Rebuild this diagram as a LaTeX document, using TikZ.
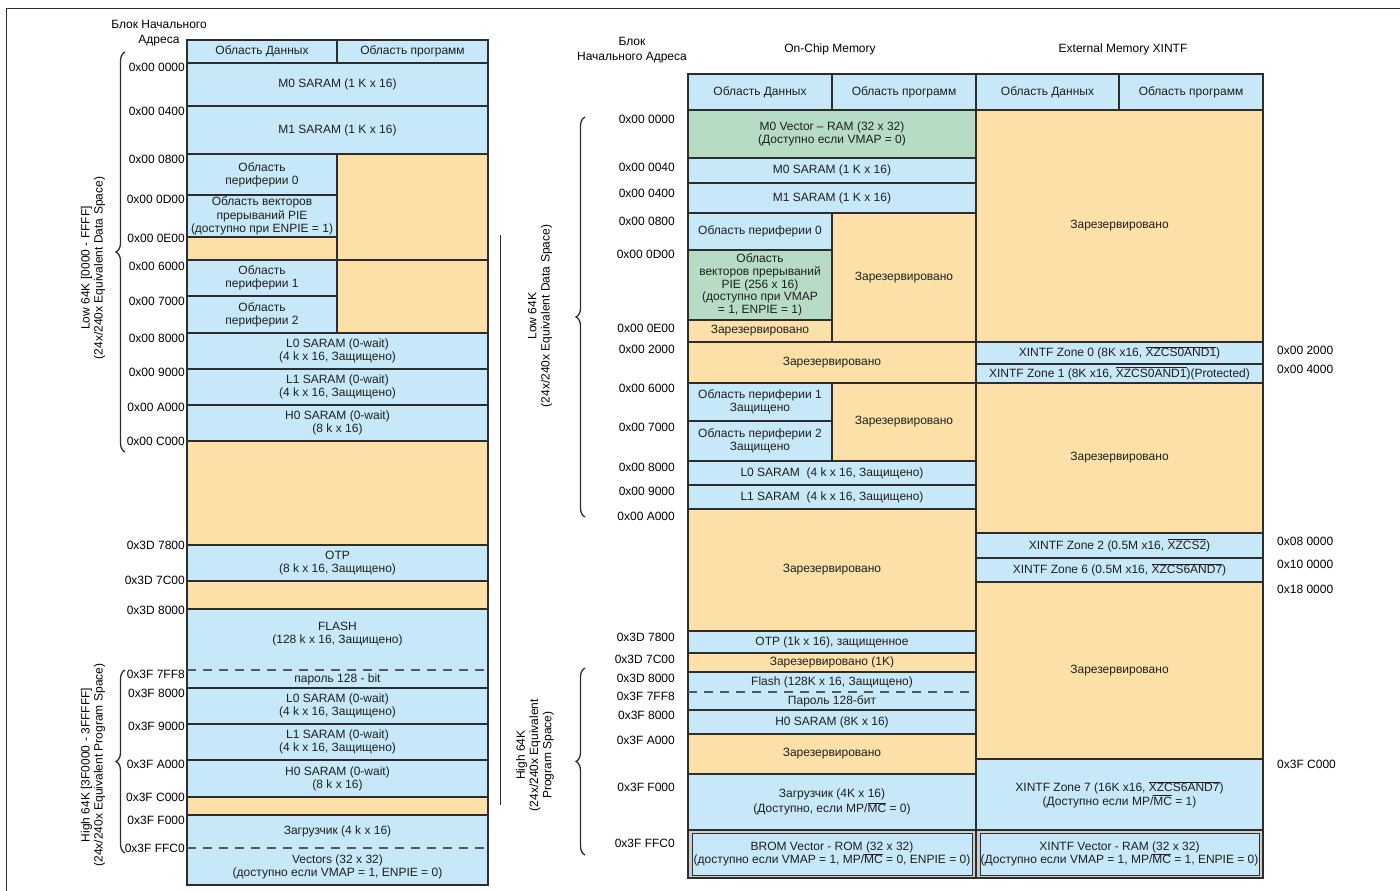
\documentclass[tikz,border=0pt]{standalone}
\usepackage{fontspec}
\setmainfont{Liberation Sans}
\usepackage{tikz}
\usetikzlibrary{decorations.pathreplacing}
\definecolor{ramblue}{RGB}{198, 232, 248}
\definecolor{rsvorange}{RGB}{253, 224, 168}
\definecolor{vecgreen}{RGB}{182, 221, 195}
\definecolor{framegray}{RGB}{205, 205, 205}
\definecolor{edgegray}{RGB}{45, 45, 45}
\newcommand{\ovl}[1]{$\overline{\mbox{#1}}$}
\newcommand{\mapfont}{\fontsize{12}{13.2}\selectfont}

\begin{document}
\begin{tikzpicture}[
    x=1pt, y=-1pt,
    cellbase/.style={anchor=north west, inner sep=0pt, outer sep=0pt,
                     align=center, font=\mapfont, text=black!88},
    ram/.style={cellbase, draw=edgegray, line width=1.1pt, fill=ramblue},
    rsv/.style={cellbase, draw=edgegray, line width=1.1pt, fill=rsvorange},
    vec/.style={cellbase, draw=edgegray, line width=1.1pt, fill=vecgreen},
    ramfill/.style={cellbase, fill=ramblue},
    dbl/.style={cellbase, draw=edgegray, line width=1.1pt, fill=framegray},
    outline/.style={draw=edgegray, line width=1.1pt},
    dashsep/.style={draw=edgegray!80, line width=1.1pt, dash pattern=on 9pt off 7pt},
    addr/.style={anchor=east, inner sep=0pt, font=\mapfont},
    xaddr/.style={anchor=west, inner sep=0pt, font=\mapfont},
    heading/.style={align=center, inner sep=0pt, font=\mapfont},
    bracepath/.style={decorate, decoration={brace, amplitude=9pt},
                      draw=edgegray, line width=1.3pt},
    sidelabel/.style={rotate=90, align=center, inner sep=0pt, font=\mapfont}
]
    \useasboundingbox (0,0) rectangle (1400,891);

    % frame and separator
    \coordinate (framebl) at (6,891);
    \coordinate (frametr) at (1400,8);
    \draw[edgegray, line width=0.8pt] (framebl) |- (frametr);
    \coordinate (septop) at (500,235);
    \coordinate (sepbot) at (500,805);
    \draw[edgegray, line width=1pt] (septop) -- (sepbot);

    % ---------- left map ----------
    \node[heading] (ltitle) at (159,33) {Блок Начального\\[2pt]Адреса};
    \node[ram, minimum width=150pt, minimum height=23pt] (lhd1) at (187,40) {Область Данных};
    \node[ram, minimum width=151pt, minimum height=23pt] (lhd2) at (337,40) {Область программ};
    \node[ram, minimum width=301pt, minimum height=43pt] (lm0) at (187,63) {M0 SARAM (1 K x 16)};
    \node[ram, minimum width=301pt, minimum height=48pt] (lm1) at (187,106) {M1 SARAM (1 K x 16)};
    \node[ram, minimum width=150pt, minimum height=41pt] (lp0) at (187,154) {Область\\периферии 0};
    \node[ram, minimum width=150pt, minimum height=42pt] (lpie) at (187,195)
        {Область векторов\\прерываний PIE\\(доступно при ENPIE = 1)};
    \node[rsv, minimum width=150pt, minimum height=23pt] (lr0) at (187,237) {};
    \node[rsv, minimum width=151pt, minimum height=106pt] (lr1) at (337,154) {};
    \node[ram, minimum width=150pt, minimum height=36pt] (lp1) at (187,260) {Область\\периферии 1};
    \node[ram, minimum width=150pt, minimum height=37pt] (lp2) at (187,296) {Область\\периферии 2};
    \node[rsv, minimum width=151pt, minimum height=73pt] (lr2) at (337,260) {};
    \node[ram, minimum width=301pt, minimum height=36pt] (ll0) at (187,333)
        {L0 SARAM (0-wait)\\(4 k x 16, Защищено)};
    \node[ram, minimum width=301pt, minimum height=36pt] (ll1) at (187,369)
        {L1 SARAM (0-wait)\\(4 k x 16, Защищено)};
    \node[ram, minimum width=301pt, minimum height=36pt] (lh0) at (187,405)
        {H0 SARAM (0-wait)\\(8 k x 16)};
    \node[rsv, minimum width=301pt, minimum height=104pt] (lr3) at (187,441) {};
    \node[ram, minimum width=301pt, minimum height=36pt] (lotp) at (187,545)
        {OTP\\(8 k x 16, Защищено)};
    \node[rsv, minimum width=301pt, minimum height=28pt] (lr4) at (187,581) {};
    \node[ramfill, minimum width=301pt, minimum height=50pt] (lflash) at (187,609)
        {FLASH\\(128 k x 16, Защищено)};
    \node[ramfill, minimum width=301pt, minimum height=11pt] (lflash2) at (187,659) {};
    \node[ramfill, minimum width=301pt, minimum height=18pt] (lpwd) at (187,670) {пароль 128 - bit};
    \draw[outline] (lflash.north west) rectangle (lpwd.south east);
    \draw[dashsep] (lpwd.north west) -- (lpwd.north east);
    \node[ram, minimum width=301pt, minimum height=36pt] (lhl0) at (187,688)
        {L0 SARAM (0-wait)\\(4 k x 16, Защищено)};
    \node[ram, minimum width=301pt, minimum height=36pt] (lhl1) at (187,724)
        {L1 SARAM (0-wait)\\(4 k x 16, Защищено)};
    \node[ram, minimum width=301pt, minimum height=37pt] (lhh0) at (187,760)
        {H0 SARAM (0-wait)\\(8 k x 16)};
    \node[rsv, minimum width=301pt, minimum height=18pt] (lr5) at (187,797) {};
    \node[ramfill, minimum width=301pt, minimum height=33pt] (lboot) at (187,815) {Загрузчик (4 k x 16)};
    \node[ramfill, minimum width=301pt, minimum height=37pt] (lvec) at (187,848)
        {Vectors (32 x 32)\\(доступно если VMAP = 1, ENPIE = 0)};
    \draw[outline] (lboot.north west) rectangle (lvec.south east);
    \draw[dashsep] (lvec.north west) -- (lvec.north east);

    % left addresses
    \node[addr] (la1) at (185,67) {0x00 0000};
    \node[addr] (la2) at (185,111) {0x00 0400};
    \node[addr] (la3) at (185,159) {0x00 0800};
    \node[addr] (la4) at (185,199) {0x00 0D00};
    \node[addr] (la5) at (185,238) {0x00 0E00};
    \node[addr] (la6) at (185,266) {0x00 6000};
    \node[addr] (la7) at (185,301) {0x00 7000};
    \node[addr] (la8) at (185,338) {0x00 8000};
    \node[addr] (la9) at (185,372) {0x00 9000};
    \node[addr] (la10) at (185,407) {0x00 A000};
    \node[addr] (la11) at (185,441) {0x00 C000};
    \node[addr] (la12) at (185,545) {0x3D 7800};
    \node[addr] (la13) at (185,580) {0x3D 7C00};
    \node[addr] (la14) at (185,610) {0x3D 8000};
    \node[addr] (la15) at (185,674) {0x3F 7FF8};
    \node[addr] (la16) at (185,693) {0x3F 8000};
    \node[addr] (la17) at (185,726) {0x3F 9000};
    \node[addr] (la18) at (185,764) {0x3F A000};
    \node[addr] (la19) at (185,797) {0x3F C000};
    \node[addr] (la20) at (185,820) {0x3F F000};
    \node[addr] (la21) at (185,848) {0x3F FFC0};

    % left braces
    \coordinate (lbrlowb) at (125,452);
    \coordinate (lbrlowt) at (125,52);
    \draw[bracepath] (lbrlowb) -- (lbrlowt);
    \node[sidelabel] (llow) at (93,268) {Low 64K [0000 - FFFF]\\(24x/240x Equivalent Data Space)};
    \coordinate (lbrhighb) at (125,853);
    \coordinate (lbrhight) at (125,670);
    \draw[bracepath] (lbrhighb) -- (lbrhight);
    \node[sidelabel] (lhigh) at (93,765) {High 64K [3F0000 - 3FFFFF]\\(24x/240x Equivalent Program Space)};

    % ---------- right map ----------
    \node[heading] (rtitle) at (632,50) {Блок\\[2pt]Начального Адреса};
    \node[heading] (onchip) at (830,49) {On-Chip Memory};
    \node[heading] (extmem) at (1123,49) {External Memory XINTF};

    \node[ram, minimum width=144pt, minimum height=36pt] (rhd1) at (688,74) {Область Данных};
    \node[ram, minimum width=144pt, minimum height=36pt] (rhd2) at (832,74) {Область программ};
    \node[ram, minimum width=143pt, minimum height=36pt] (rhd3) at (976,74) {Область Данных};
    \node[ram, minimum width=144pt, minimum height=36pt] (rhd4) at (1119,74) {Область программ};

    % on-chip memory
    \node[vec, minimum width=288pt, minimum height=48pt] (rv0) at (688,110)
        {M0 Vector – RAM (32 x 32)\\(Доступно если VMAP = 0)};
    \node[ram, minimum width=288pt, minimum height=25pt] (rm0) at (688,158) {M0 SARAM (1 K x 16)};
    \node[ram, minimum width=288pt, minimum height=30pt] (rm1) at (688,183) {M1 SARAM (1 K x 16)};
    \node[ram, minimum width=144pt, minimum height=37pt] (rp0) at (688,213) {Область периферии 0};
    \node[vec, minimum width=144pt, minimum height=70pt, font=\fontsize{12}{12.6}\selectfont] (rpie) at (688,250)
        {Область\\векторов прерываний\\PIE (256 x 16)\\(доступно при VMAP\\= 1, ENPIE = 1)};
    \node[rsv, minimum width=144pt, minimum height=22pt] (rr0) at (688,320) {Зарезервировано};
    \node[rsv, minimum width=144pt, minimum height=129pt] (rr1) at (832,213) {Зарезервировано};
    \node[rsv, minimum width=288pt, minimum height=41pt] (rr2) at (688,342) {Зарезервировано};
    \node[ram, minimum width=144pt, minimum height=38pt] (rp1) at (688,383) {Область периферии 1\\Защищено};
    \node[ram, minimum width=144pt, minimum height=40pt] (rp2) at (688,421) {Область периферии 2\\Защищено};
    \node[rsv, minimum width=144pt, minimum height=78pt] (rr3) at (832,383) {Зарезервировано};
    \node[ram, minimum width=288pt, minimum height=24pt] (rl0) at (688,461) {L0 SARAM\ \ (4 k x 16, Защищено)};
    \node[ram, minimum width=288pt, minimum height=24pt] (rl1) at (688,485) {L1 SARAM\ \ (4 k x 16, Защищено)};
    \node[rsv, minimum width=288pt, minimum height=122pt] (rr4) at (688,509) {Зарезервировано};
    \node[ram, minimum width=288pt, minimum height=22pt] (rotp) at (688,631) {OTP (1k x 16), защищенное};
    \node[rsv, minimum width=288pt, minimum height=19pt] (rr5) at (688,653) {Зарезервировано (1K)};
    \node[ramfill, minimum width=288pt, minimum height=20pt] (rflash) at (688,672) {Flash (128K x 16, Защищено)};
    \node[ramfill, minimum width=288pt, minimum height=18pt] (rpwd) at (688,692) {Пароль 128-бит};
    \draw[outline] (rflash.north west) rectangle (rpwd.south east);
    \draw[dashsep] (rpwd.north west) -- (rpwd.north east);
    \node[ram, minimum width=288pt, minimum height=24pt] (rh0) at (688,710) {H0 SARAM (8K x 16)};
    \node[rsv, minimum width=288pt, minimum height=40pt] (rr6) at (688,734) {Зарезервировано};
    \node[ram, minimum width=288pt, minimum height=56pt] (rboot) at (688,774)
        {Загрузчик (4K x 16)\\[2pt](Доступно, если MP/\ovl{MC} = 0)};
    \node[dbl, minimum width=288pt, minimum height=48pt] (rbrom) at (688,830) {};
    \node[ram, minimum width=280pt, minimum height=42pt, line width=0.9pt] (rbromin) at (692,833)
        {BROM Vector - ROM (32 x 32)\\(доступно если VMAP = 1, MP/\ovl{MC} = 0, ENPIE = 0)};

    % external memory
    \node[rsv, minimum width=287pt, minimum height=232pt] (xr0) at (976,110) {Зарезервировано};
    \node[ram, minimum width=287pt, minimum height=22pt] (xz0) at (976,342)
        {XINTF Zone 0 (8K x16, \ovl{XZCS0AND1})};
    \node[ram, minimum width=287pt, minimum height=19pt] (xz1) at (976,364)
        {XINTF Zone 1 (8K x16, \ovl{XZCS0AND1})(Protected)};
    \node[rsv, minimum width=287pt, minimum height=150pt] (xr1) at (976,383) {Зарезервировано};
    \node[ram, minimum width=287pt, minimum height=25pt] (xz2) at (976,533)
        {XINTF Zone 2 (0.5M x16, \ovl{XZCS2})};
    \node[ram, minimum width=287pt, minimum height=24pt] (xz6) at (976,558)
        {XINTF Zone 6 (0.5M x16, \ovl{XZCS6AND7})};
    \node[rsv, minimum width=287pt, minimum height=177pt] (xr2) at (976,582) {Зарезервировано};
    \node[ram, minimum width=287pt, minimum height=71pt] (xz7) at (976,759)
        {XINTF Zone 7 (16K x16, \ovl{XZCS6AND7})\\(Доступно если MP/\ovl{MC} = 1)};
    \node[dbl, minimum width=287pt, minimum height=48pt] (xvec) at (976,830) {};
    \node[ram, minimum width=279pt, minimum height=42pt, line width=0.9pt] (xvecin) at (980,833)
        {XINTF Vector - RAM (32 x 32)\\(Доступно если VMAP = 1, MP/\ovl{MC} = 1, ENPIE = 0)};

    % right addresses
    \node[addr] (ra1) at (675,119) {0x00 0000};
    \node[addr] (ra2) at (675,167) {0x00 0040};
    \node[addr] (ra3) at (675,193) {0x00 0400};
    \node[addr] (ra4) at (675,221) {0x00 0800};
    \node[addr] (ra5) at (675,254) {0x00 0D00};
    \node[addr] (ra6) at (675,328) {0x00 0E00};
    \node[addr] (ra7) at (675,349) {0x00 2000};
    \node[addr] (ra8) at (675,388) {0x00 6000};
    \node[addr] (ra9) at (675,427) {0x00 7000};
    \node[addr] (ra10) at (675,467) {0x00 8000};
    \node[addr] (ra11) at (675,491) {0x00 9000};
    \node[addr] (ra12) at (675,516) {0x00 A000};
    \node[addr] (ra13) at (675,637) {0x3D 7800};
    \node[addr] (ra14) at (675,659) {0x3D 7C00};
    \node[addr] (ra15) at (675,678) {0x3D 8000};
    \node[addr] (ra16) at (675,696) {0x3F 7FF8};
    \node[addr] (ra17) at (675,715) {0x3F 8000};
    \node[addr] (ra18) at (675,740) {0x3F A000};
    \node[addr] (ra19) at (675,787) {0x3F F000};
    \node[addr] (ra20) at (675,843) {0x3F FFC0};

    \node[xaddr] (xa1) at (1277,350) {0x00 2000};
    \node[xaddr] (xa2) at (1277,369) {0x00 4000};
    \node[xaddr] (xa3) at (1277,541) {0x08 0000};
    \node[xaddr] (xa4) at (1277,564) {0x10 0000};
    \node[xaddr] (xa5) at (1277,589) {0x18 0000};
    \node[xaddr] (xa6) at (1277,764) {0x3F C000};

    % right braces
    \coordinate (rbrlowb) at (585,517);
    \coordinate (rbrlowt) at (585,117);
    \draw[bracepath] (rbrlowb) -- (rbrlowt);
    \node[sidelabel] (rlow) at (540,316) {Low 64K\\(24x/240x Equivalent Data Space)};
    \coordinate (rbrhighb) at (585,855);
    \coordinate (rbrhight) at (585,668);
    \draw[bracepath] (rbrhighb) -- (rbrhight);
    \node[sidelabel] (rhigh) at (535,755) {High 64K\\(24x/240x Equivalent\\Program Space)};
\end{tikzpicture}
\end{document}
